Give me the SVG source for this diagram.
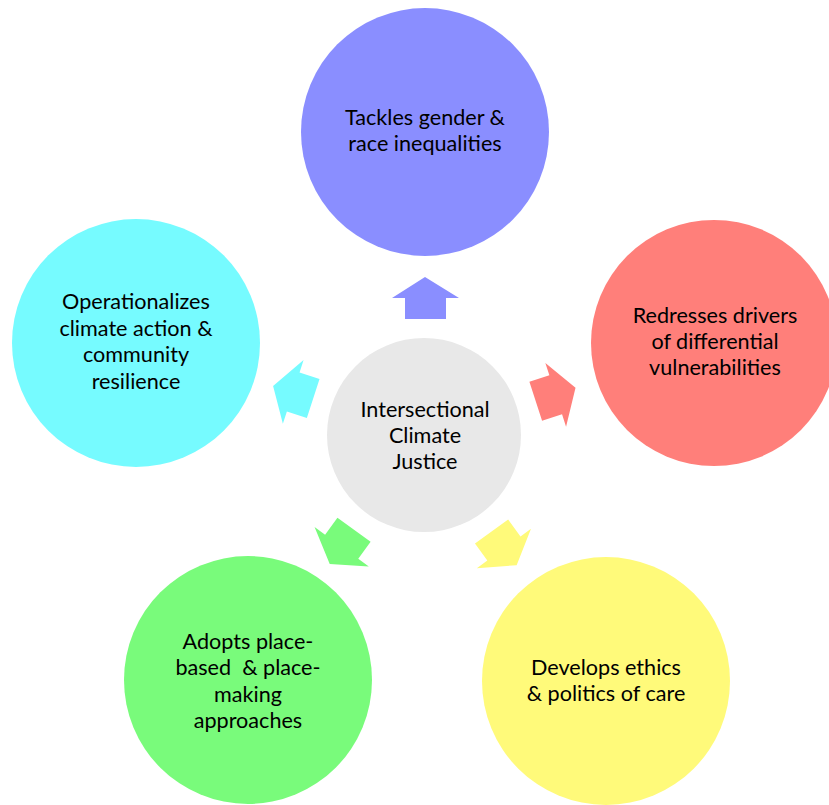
<svg xmlns="http://www.w3.org/2000/svg" width="829" height="805" viewBox="0 0 829 805">
  <style>
    .lbl { font-family: Lato, "Open Sans", "Liberation Sans", sans-serif; font-size: 21.6px; fill: #000; text-anchor: middle; white-space: pre; }
  </style>
  <defs>
    <!-- block arrow pointing up, drawn above the hub centre (424,436) -->
    <polygon id="blockArrow" points="425,277 459,298 446,298 446,319 405,319 405,298 392,298"/>
  </defs>
  <rect width="829" height="805" fill="#fff"/>

  <g id="connectors">
    <use href="#blockArrow" fill="#8A8EFF"/>
    <use href="#blockArrow" fill="#FF7F7A" transform="rotate(72 424 436)"/>
    <use href="#blockArrow" fill="#FFFA7A" transform="rotate(144 424 436)"/>
    <use href="#blockArrow" fill="#79FB7B" transform="rotate(-144 424 436)"/>
    <use href="#blockArrow" fill="#76FBFF" transform="rotate(-72 424 436)"/>
  </g>

  <g id="hub">
    <circle cx="424" cy="435" r="97" fill="#E8E8E8"/>
    <text class="lbl"><tspan x="425" y="417">Intersectional</tspan><tspan x="425" y="443">Climate</tspan><tspan x="425" y="469">Justice</tspan></text>
  </g>

  <g id="node-gender-race">
    <circle cx="425" cy="132" r="124" fill="#8A8EFF"/>
    <text class="lbl"><tspan x="425" y="125">Tackles gender &amp;</tspan><tspan x="425" y="151">race inequalities</tspan></text>
  </g>

  <g id="node-vulnerabilities">
    <circle cx="714" cy="343" r="123" fill="#FF7F7A"/>
    <text class="lbl"><tspan x="715" y="323">Redresses drivers</tspan><tspan x="715" y="349">of differential</tspan><tspan x="715" y="375">vulnerabilities</tspan></text>
  </g>

  <g id="node-care">
    <circle cx="606" cy="681" r="124" fill="#FFFA7A"/>
    <text class="lbl"><tspan x="606" y="675">Develops ethics</tspan><tspan x="606" y="701">&amp; politics of care</tspan></text>
  </g>

  <g id="node-place">
    <circle cx="248" cy="680" r="124" fill="#79FB7B"/>
    <text class="lbl"><tspan x="248" y="649">Adopts place-</tspan><tspan x="248" y="675">based  &amp; place-</tspan><tspan x="248" y="702">making</tspan><tspan x="248" y="728">approaches</tspan></text>
  </g>

  <g id="node-resilience">
    <circle cx="136" cy="343" r="124" fill="#76FBFF"/>
    <text class="lbl"><tspan x="136" y="309">Operationalizes</tspan><tspan x="136" y="336">climate action &amp;</tspan><tspan x="136" y="362">community</tspan><tspan x="136" y="389">resilience</tspan></text>
  </g>
</svg>
